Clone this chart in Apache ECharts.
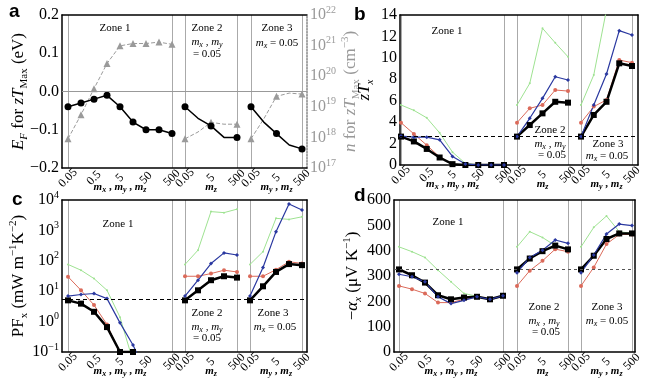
<!DOCTYPE html>
<html><head><meta charset="utf-8">
<script src="https://cdn.jsdelivr.net/npm/echarts@6/dist/echarts.min.js"></script>
<style>html,body{margin:0;padding:0;background:#fff}#c{width:651px;height:380px}</style>
</head><body><div id="c"></div>
<script>
// ---------- data ----------
const zone1Cats = ['0.05','0.16','0.5','1.6','5','16','50','160','500'];
const zone23Cats = ['0.05','0.5','5','50','500'];
const zoneNames = [['Zone 1'], ['Zone 2', 'mx , my', '= 0.05'], ['Zone 3', 'mx = 0.05']];

// panel a
const EF_zTmax = [[-0.04,-0.03,-0.02,-0.01,-0.04,-0.08,-0.10,-0.10,-0.11],[-0.04,-0.07,-0.09,-0.12,-0.12],[-0.04,-0.08,-0.11,-0.14,-0.15]];
const n_zTmax = [[9e17,5.5e18,3.9e19,2.6e20,9.8e20,1.17e21,1.17e21,1.3e21,1.1e21],[9e17,1.5e18,3.1e18,2.7e18,2.7e18],[9e17,4e18,2.2e19,2.8e19,2.6e19]];
const EF_ref = 0;

// panel b
const zT_black = [[2.65,2.2,1.5,0.7,0.08,0,0,0,0],[2.65,3.73,4.82,5.9,5.82],[2.65,4.67,5.9,9.49,9.24]];
const zT_red = [[3.95,2.9,1.85,0.75,0.08,0,0,0,0],[3.95,5.29,5.6,7.0,6.9],[3.95,5.45,6.07,9.8,9.55]];
const zT_blue = [[2.7,2.6,2.6,2.35,0.8,0.1,0,0,0],[2.65,4.36,6.22,8.24,7.93],[2.65,5.6,8.49,12.54,12.13]];
const zT_green = [[5.6,5.1,4.4,3.0,1.2,0.15,0,0,0],[5.6,7.62,12.76,11.4,10.1],[5.6,8.4,14.5,20,19]];
const zT_ref = 2.65;

// panel c
const PF_black = [[5.0,3.9,2.1,0.66,0.1,0.1],[5.0,10.7,23,31,28],[5.0,14.5,43,78,72]];
const PF_red = [[30,10.7,3.5,0.8,0.09],[31,31,38,49,43],[31,31,51,93,82]];
const PF_blue = [[6.9,7.8,8.4,5.7,0.91,0.17,0.02],[6.9,23,81,182,155],[6.9,60,910,7400,4700]];
const PF_green = [[76,49,26,10.7,1.4,0.05],[76,224,4150,3840,5000],[76,200,2500,2300,2800]];
const PF_ref = 5.4;

// panel d
const alpha_black = [[326,303,274,224,208,215,218,208,222],[326,369,398,420,405],[326,380,446,468,468]];
const alpha_red = [[261,248,231,195,195,208,218,208,222],[261,321,360,406,396],[261,334,426,464,464]];
const alpha_blue = [[307,297,277,218,191,204,218,208,222],[313,373,402,442,429],[313,383,466,505,499]];
const alpha_green = [[415,396,373,323,277,231,220,208,222],[415,475,452,420,409],[415,492,537,475,468]];
const alpha_ref = 326;

// ---------- styling / layout ----------
const SERIF = 'Liberation Serif';
const RED = '#db6a5a', BLUE = '#2a38a0', GREEN = '#9ee291', GRAY = '#9a9a9a';
const grid = [], xAxis = [], yAxis = [], series = [], graphic = [];

function logLabel(v) { const e = Math.round(Math.log10(v)); return '{b|10}{e|' + (e < 0 ? '\u2212' + (-e) : e) + '}'; }
function logRich(color) { return {
  b: {fontFamily: SERIF, fontSize: 16, color, lineHeight: 20, verticalAlign: 'middle'},
  e: {fontFamily: SERIF, fontSize: 10, color, lineHeight: 10, verticalAlign: 'top'}}; }
function nameRich(color) { return {
  r: {fontFamily: SERIF, fontSize: 17, color, lineHeight: 22, verticalAlign: 'middle'},
  i: {fontFamily: SERIF, fontStyle: 'italic', fontSize: 17, color, lineHeight: 22, verticalAlign: 'middle'},
  s: {fontFamily: SERIF, fontStyle: 'italic', fontSize: 11, color, lineHeight: 11, verticalAlign: 'bottom'},
  sr: {fontFamily: SERIF, fontSize: 11, color, lineHeight: 11, verticalAlign: 'bottom'},
  p: {fontFamily: SERIF, fontSize: 11, color, lineHeight: 11, verticalAlign: 'top'}}; }
const mRich = {
  i: {fontFamily: SERIF, fontStyle: 'italic', fontWeight: 'bold', fontSize: 11, color: '#000', lineHeight: 14, verticalAlign: 'middle'},
  s: {fontFamily: SERIF, fontStyle: 'italic', fontWeight: 'bold', fontSize: 8, color: '#000', lineHeight: 8, verticalAlign: 'bottom'},
  r: {fontFamily: SERIF, fontWeight: 'bold', fontSize: 11, color: '#000', lineHeight: 14, verticalAlign: 'middle'}};
const xNames = ['{i|m}{s|x}{r| , }{i|m}{s|y}{r| , }{i|m}{s|z}', '{i|m}{s|z}', '{i|m}{s|y}{r| , }{i|m}{s|z}'];

function zoneText(x, y, txt) {
  let t = txt.replace(/m([xyz])/g, '{i|m}{s|$1}');
  t = t.split(/(\{[is]\|[^}]*\})/).map(s => s === '' ? '' : (s.startsWith('{') ? s : '{r|' + s + '}')).join('');
  graphic.push({type: 'text', x, y, z: 100, style: {text: t, textAlign: 'center', textVerticalAlign: 'middle', verticalAlign: 'middle', rich: {
    r: {fontFamily: SERIF, fontSize: 11, fill: '#000', color: '#000', lineHeight: 13, verticalAlign: 'middle'},
    i: {fontFamily: SERIF, fontStyle: 'italic', fontSize: 11, fill: '#000', color: '#000', lineHeight: 13, verticalAlign: 'middle'},
    s: {fontFamily: SERIF, fontStyle: 'italic', fontSize: 8, fill: '#000', color: '#000', lineHeight: 8, verticalAlign: 'bottom'}}}});
}
function letter(x, y, t) {
  graphic.push({type: 'text', x, y, z: 100, style: {text: t, font: 'bold 19px "Liberation Sans"', fill: '#000', textAlign: 'left', textVerticalAlign: 'middle', verticalAlign: 'middle'}});
}

function panel(p) {
  const H = p.B - p.T;
  const fg = grid.length;
  grid.push({left: p.L, top: p.T, width: p.R - p.L, height: H, outerBoundsMode: 'none', containLabel: false});
  const fx = xAxis.length;
  const frameLine = {show: true, onZero: false, lineStyle: {color: '#000', width: 1.5}};
  xAxis.push({gridIndex: fg, type: 'value', min: 0, max: 1, position: 'bottom', axisLine: frameLine, axisTick: {show: false}, axisLabel: {show: false}, splitLine: {show: false}});
  xAxis.push({gridIndex: fg, type: 'value', min: 0, max: 1, position: 'top', axisLine: frameLine, axisTick: {show: false}, axisLabel: {show: false}, splitLine: {show: false}});
  const fy = yAxis.length;
  const yl = Object.assign({gridIndex: fg, position: 'left', axisLine: frameLine, axisTick: {show: false}, splitLine: {show: false},
    name: p.yName, nameLocation: 'middle', nameGap: p.yNameGap, nameRotate: 90, nameMoveOverlap: false, nameTextStyle: {rich: nameRich('#000')}}, p.yScale);
  yl.axisLabel = Object.assign({margin: 3, color: '#000', fontFamily: SERIF, fontSize: 16}, p.yLabel || {});
  yAxis.push(yl);
  if (p.y2Scale) {
    yAxis.push(Object.assign({gridIndex: fg, position: 'right', axisLine: {show: true, onZero: false, lineStyle: {color: '#888', width: 1.5, type: 'dotted'}},
      axisTick: {show: false}, splitLine: {show: false}, axisLabel: {margin: 3, formatter: logLabel, rich: logRich('#999')},
      name: p.y2Name, nameLocation: 'middle', nameGap: p.y2NameGap, nameRotate: 90, nameMoveOverlap: false, nameTextStyle: {rich: nameRich('#999')}}, p.y2Scale));
  } else {
    yAxis.push({gridIndex: fg, position: 'right', type: 'value', min: 0, max: 1, axisLine: frameLine, axisTick: {show: false}, axisLabel: {show: false}, splitLine: {show: false}});
  }
  series.push({type: 'line', xAxisIndex: fx, yAxisIndex: fy, data: [], silent: true,
    markLine: {symbol: 'none', silent: true, animation: false, label: {show: false},
      lineStyle: p.refStyle, data: [{yAxis: p.ref}]}});

  p.zones.forEach((z, k) => {
    const gi = grid.length;
    grid.push({left: z[0], top: p.T, width: z[1] - z[0], height: H, outerBoundsMode: 'none', containLabel: false});
    const cats = k === 0 ? zone1Cats : zone23Cats;
    const xi = xAxis.length;
    xAxis.push({gridIndex: gi, type: 'category', boundaryGap: false, data: cats,
      axisLine: {show: false}, axisTick: {show: false},
      axisLabel: {interval: 1, rotate: 45, align: 'center', verticalAlign: 'middle', margin: 10, fontFamily: SERIF, fontSize: 12, color: '#000', hideOverlap: false},
      splitLine: {show: true, interval: (i) => i === 0 || i === cats.length - 1, lineStyle: {color: '#aaa', width: 1}},
      name: xNames[k], nameLocation: 'middle', nameGap: 12, nameMoveOverlap: false, nameTextStyle: {rich: mRich}});
    const yi = yAxis.length;
    yAxis.push(Object.assign({gridIndex: gi, show: false}, p.yScale));
    let yi2 = yi;
    if (p.y2Scale) { yi2 = yAxis.length; yAxis.push(Object.assign({gridIndex: gi, show: false, position: 'right'}, p.y2Scale)); }
    p.series.forEach(s => {
      series.push({type: 'line', xAxisIndex: xi, yAxisIndex: s.right ? yi2 : yi, data: s.data[k],
        symbol: s.symbol, symbolSize: s.size, showSymbol: true, animation: false, silent: true, z: s.z || 2,
        itemStyle: {color: s.color}, lineStyle: {color: s.color, width: s.width, type: s.type || 'solid'}});
    });
  });
}

const lineSeries = (g, r, k, b) => [
  {data: g, color: GREEN, width: 1, symbol: 'circle', size: 2},
  {data: r, color: RED, width: 1, symbol: 'circle', size: 4},
  {data: k, color: '#000', width: 2.5, symbol: 'rect', size: 6},
  {data: b, color: BLUE, width: 1.2, symbol: 'diamond', size: 4}];

panel({L: 62, R: 307, T: 15, B: 168, zones: [[68, 172], [185, 237], [251, 302]],
  yScale: {type: 'value', min: -0.2, max: 0.2, interval: 0.1},
  yLabel: {formatter: v => (v < -1e-9 ? '\u2212' : '') + Math.abs(v).toFixed(1)},
  yName: '{i|E}{s|F}{r| for }{i|zT}{sr|Max}{r| (eV)}', yNameGap: 32,
  y2Scale: {type: 'log', logBase: 10, min: 1e17, max: 1e22},
  y2Name: '{i|n}{r| for }{i|zT}{sr|Max}{r| (cm}{p|\u22123}{r|)}', y2NameGap: 33,
  ref: EF_ref, refStyle: {color: '#999', width: 1, type: 'solid'},
  series: [
    {data: n_zTmax, right: true, color: GRAY, width: 1, type: [4, 2], symbol: 'triangle', size: 7},
    {data: EF_zTmax, color: '#000', width: 1.5, symbol: 'circle', size: 7}]});

panel({L: 400, R: 638, T: 15, B: 165, zones: [[401, 504], [517, 568], [581, 632]],
  yScale: {type: 'value', min: 0, max: 14, interval: 2},
  yName: '{i|zT}{s|x}', yNameGap: 24,
  ref: zT_ref, refStyle: {color: '#000', width: 1, type: [4, 3]},
  series: lineSeries(zT_green, zT_red, zT_black, zT_blue)});

panel({L: 62, R: 307, T: 200, B: 352, zones: [[68, 172], [185, 237], [250, 302]],
  yScale: {type: 'log', logBase: 10, min: 0.1, max: 10000},
  yLabel: {formatter: logLabel, rich: logRich('#000')},
  yName: '{r|PF}{sr|x}{r| (mW m}{p|\u22121}{r|K}{p|\u22122}{r|)}', yNameGap: 32,
  ref: PF_ref, refStyle: {color: '#000', width: 1, type: [4, 3]},
  series: lineSeries(PF_green, PF_red, PF_black, PF_blue)});

panel({L: 394, R: 635, T: 200, B: 352, zones: [[399, 503], [517, 568], [581, 632]],
  yScale: {type: 'value', min: 0, max: 600, interval: 100},
  yName: '{r|\u2212}{i|\u03b1}{s|x}{r| (\u03bcV K}{p|\u22121}{r|)}', yNameGap: 30,
  ref: alpha_ref, refStyle: {color: '#555', width: 1, type: [3, 3]},
  series: lineSeries(alpha_green, alpha_red, alpha_black, alpha_blue)});

// zone annotations
zoneText(115, 28, zoneNames[0][0]);
zoneText(207, 28, zoneNames[1][0]); zoneText(207, 42, zoneNames[1][1]); zoneText(207, 54, zoneNames[1][2]);
zoneText(277, 28, zoneNames[2][0]); zoneText(277, 43, zoneNames[2][1]);
zoneText(447, 31, zoneNames[0][0]);
zoneText(550, 130, zoneNames[1][0]); zoneText(550, 144, zoneNames[1][1]); zoneText(552, 155, zoneNames[1][2]);
zoneText(608, 144, zoneNames[2][0]); zoneText(607, 156, zoneNames[2][1]);
zoneText(118, 224, zoneNames[0][0]);
zoneText(207, 313, zoneNames[1][0]); zoneText(207, 327, zoneNames[1][1]); zoneText(207, 338, zoneNames[1][2]);
zoneText(273, 313, zoneNames[2][0]); zoneText(275, 327, zoneNames[2][1]);
zoneText(448, 222, zoneNames[0][0]);
zoneText(544, 307, zoneNames[1][0]); zoneText(544, 321, zoneNames[1][1]); zoneText(546, 332, zoneNames[1][2]);
zoneText(607, 307, zoneNames[2][0]); zoneText(607, 321, zoneNames[2][1]);
letter(9, 12, 'a'); letter(354, 15, 'b'); letter(12, 200, 'c'); letter(354, 196, 'd');

const chart = echarts.init(document.getElementById('c'));
chart.setOption({animation: false, grid, xAxis, yAxis, series, graphic});
</script></body></html>
